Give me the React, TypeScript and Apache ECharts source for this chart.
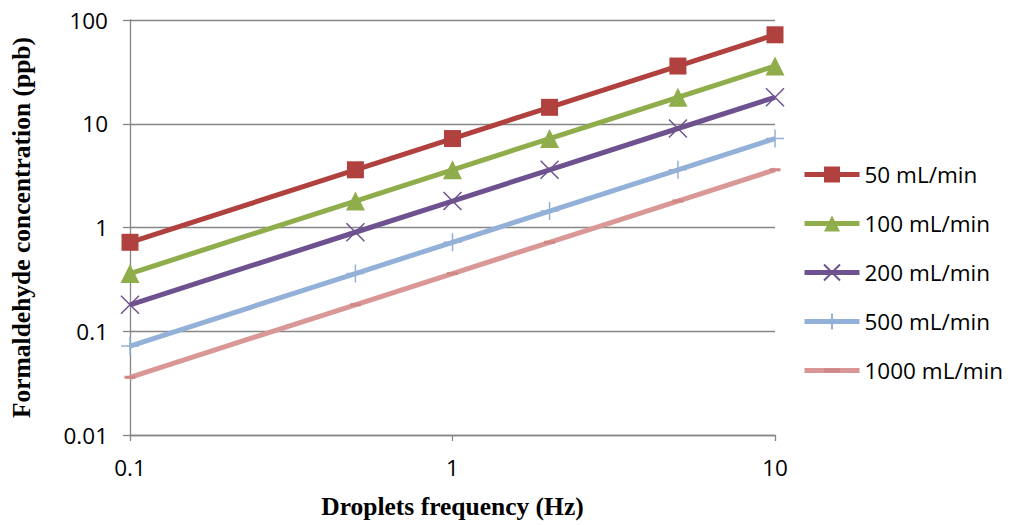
import React, { useEffect, useRef } from "react";
import * as echarts from "echarts";

const frequencies = [0.1, 0.5, 1, 2, 5, 10];
const seriesNames = ["50 mL/min", "100 mL/min", "200 mL/min", "500 mL/min", "1000 mL/min"];
const flow50 = [0.72, 3.6, 7.2, 14.4, 36, 72];
const flow100 = [0.36, 1.8, 3.6, 7.2, 18, 36];
const flow200 = [0.18, 0.9, 1.8, 3.6, 9, 18];
const flow500 = [0.072, 0.36, 0.72, 1.44, 3.6, 7.2];
const flow1000 = [0.036, 0.18, 0.36, 0.72, 1.8, 3.6];
const allValues = [flow50, flow100, flow200, flow500, flow1000];

const colors = ["#B0413E", "#8FAD4B", "#6E5290", "#93B1D8", "#D99795"];

export default function App() {
  const ref = useRef<HTMLDivElement>(null);
  useEffect(() => {
    if (!ref.current) return;
    const chart = echarts.init(ref.current, undefined, { renderer: "svg" });
    const symbols: any[] = [
      { symbol: "rect", symbolSize: 17, itemStyle: { color: colors[0] } },
      { symbol: "triangle", symbolSize: 19, itemStyle: { color: colors[1] } },
      {
        symbol: "path://M0,0L10,10M10,0L0,10",
        symbolSize: 18,
        itemStyle: { color: "none", borderColor: colors[2], borderWidth: 1.5 },
      },
      {
        symbol: "path://M5,0L5,10M0,5L10,5",
        symbolSize: 18,
        itemStyle: { color: "none", borderColor: colors[3], borderWidth: 1.5 },
      },
      {
        symbol: "path://M0,0L0,0M0,3.6L10,3.6L10,6.4L0,6.4ZM10,10L10,10",
        symbolSize: 11,
        symbolKeepAspect: true,
        itemStyle: { color: "#D08886" },
      },
    ];
    const fmt = (v: number) => String(Number(v.toPrecision(3)));
    chart.setOption({
      animation: false,
      backgroundColor: "#ffffff",
      grid: { left: 130, right: 237, top: 20, bottom: 90, containLabel: false, outerBoundsMode: "none" },
      legend: {
        orient: "vertical",
        left: 797,
        top: 157,
        itemWidth: 55,
        itemHeight: 20,
        itemGap: 24,
        lineStyle: { width: 5 },
        textStyle: { fontFamily: "Open Sans", fontSize: 22.5, color: "#000", lineHeight: 25 },
        data: seriesNames,
      },
      xAxis: {
        type: "log",
        logBase: 10,
        min: 0.1,
        max: 10,
        name: "Droplets frequency (Hz)",
        nameLocation: "middle",
        nameGap: 58,
        nameTextStyle: { fontFamily: "Liberation Serif", fontWeight: "bold", fontSize: 25.5, color: "#000" },
        axisLine: { show: true, lineStyle: { color: "#868686", width: 1.3 } },
        axisTick: { show: true, length: 6, lineStyle: { color: "#868686", width: 1.3 } },
        minorTick: { show: false },
        splitLine: { show: false },
        axisLabel: { fontFamily: "Open Sans", fontSize: 22.5, color: "#000", margin: 21, formatter: fmt },
      },
      yAxis: {
        type: "log",
        logBase: 10,
        min: 0.01,
        max: 100,
        name: "Formaldehyde concentration (ppb)",
        nameLocation: "middle",
        nameGap: 96,
        nameTextStyle: { fontFamily: "Liberation Serif", fontWeight: "bold", fontSize: 25.5, color: "#000" },
        axisLine: { show: true, lineStyle: { color: "#868686", width: 1.3 } },
        axisTick: { show: true, length: 7, lineStyle: { color: "#868686", width: 1.3 } },
        splitLine: { show: true, lineStyle: { color: "#868686", width: 1.3 } },
        axisLabel: { fontFamily: "Open Sans", fontSize: 22.5, color: "#000", margin: 22, formatter: fmt },
      },
      series: seriesNames.map((name, i) => ({
        name,
        type: "line",
        data: frequencies.map((f, j) => [f, allValues[i][j]]),
        lineStyle: { color: colors[i], width: 5 },
        ...symbols[i],
        z: 10 - i,
      })),
    });
    return () => chart.dispose();
  }, []);
  return <div ref={ref} style={{ width: 1012, height: 525, position: "absolute", left: 0, top: 0 }} />;
}
